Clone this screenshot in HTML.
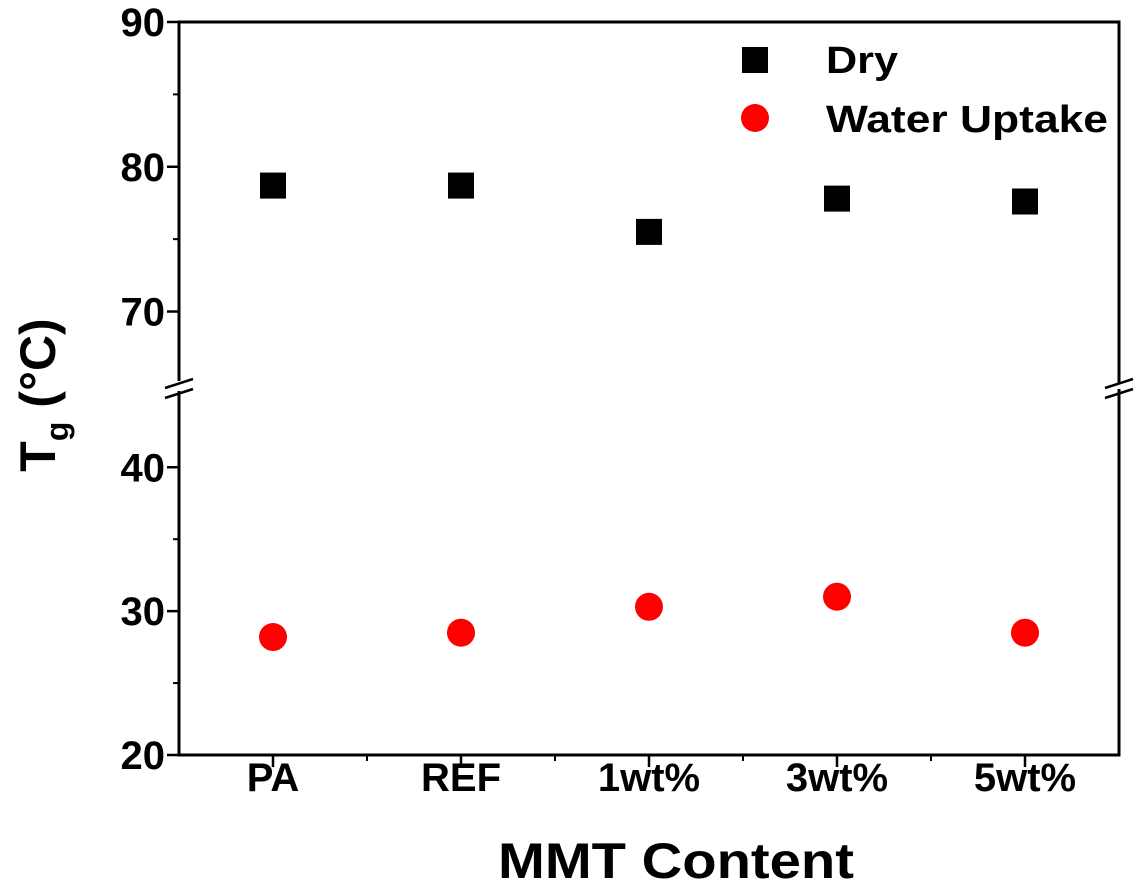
<!DOCTYPE html>
<html><head><meta charset="utf-8"><style>
body{margin:0;background:#fff}
svg text{font-family:"Liberation Sans","DejaVu Sans",sans-serif;font-weight:bold;fill:#000}
</style></head><body>
<svg width="1134" height="888" viewBox="0 0 1134 888">
<g id="g"></g>
</svg>
<script>
const categories=["PA","REF","1wt%","3wt%","5wt%"];
const dryValues=[78.7,78.7,75.5,77.8,77.6];
const waterValues=[28.2,28.5,30.3,31.0,28.5];
const upperTicks=[70,80,90];
const lowerTicks=[20,30,40];
const L=179,R=1119,T=22,B=755,brkTop=381,brkBot=391;
const upMin=65.2,upMax=90,loMin=20,loMax=45.3;
function yUp(v){return T+(upMax-v)/(upMax-upMin)*(brkTop-T);}
function yLo(v){return brkBot+(loMax-v)/(loMax-loMin)*(B-brkBot);}
function y(v){return v>=55?yUp(v):yLo(v);}
const step=(R-L)/5;
function x(i){return L+step*(i+0.5);}
const g=document.getElementById('g');
const NS='http://www.w3.org/2000/svg';
function mk(t,a,p){const e=document.createElementNS(NS,t);for(const k in a)e.setAttribute(k,a[k]);(p||g).appendChild(e);return e;}
let e;
e=mk('line',{x1:L,y1:T,x2:L,y2:brkTop,stroke:'#000','stroke-width':3});
e=mk('line',{x1:L,y1:brkBot,x2:L,y2:B,stroke:'#000','stroke-width':3});
e=mk('line',{x1:R,y1:T,x2:R,y2:brkTop+2,stroke:'#000','stroke-width':3});
e=mk('line',{x1:R,y1:brkBot-2,x2:R,y2:B,stroke:'#000','stroke-width':3});
e=mk('line',{x1:L-1.5,y1:T,x2:R+1.5,y2:T,stroke:'#000','stroke-width':3});
e=mk('line',{x1:L-1.5,y1:B,x2:R+1.5,y2:B,stroke:'#000','stroke-width':3});
[L,R].forEach(bx=>{[brkTop+3,brkBot+3].forEach(by=>{
 e=mk('line',{x1:bx-14,y1:by+4,x2:bx+14,y2:by-5,stroke:'#000','stroke-width':2.5});
 
});});
function yt(vals,fn){
 vals.forEach(v=>{const yy=fn(v);
  e=mk('line',{x1:L,y1:yy,x2:L-12,y2:yy,stroke:'#000','stroke-width':2.5});
  e=mk('text',{x:L-14,y:yy+14,'text-anchor':'end','font-size':40});e.textContent=v;
 });
}
yt(upperTicks,yUp);yt(lowerTicks,yLo);
[75,85].forEach(v=>{e=mk('line',{x1:L,y1:yUp(v),x2:L-6,y2:yUp(v),stroke:'#000','stroke-width':2});});
[25,35].forEach(v=>{e=mk('line',{x1:L,y1:yLo(v),x2:L-6,y2:yLo(v),stroke:'#000','stroke-width':2});});
categories.forEach((c,i)=>{const xx=x(i);
 e=mk('line',{x1:xx,y1:B,x2:xx,y2:B+12,stroke:'#000','stroke-width':2.5});
 e=mk('text',{x:xx,y:B+36,'text-anchor':'middle','font-size':40});e.textContent=c;
});
for(let i=1;i<5;i++){const xx=L+step*i;e=mk('line',{x1:xx,y1:B,x2:xx,y2:B+6,stroke:'#000','stroke-width':2});}
dryValues.forEach((v,i)=>{e=mk('rect',{x:x(i)-13,y:y(v)-13,width:26,height:26,fill:'#000'});});
waterValues.forEach((v,i)=>{e=mk('circle',{cx:x(i),cy:y(v),r:14,fill:'#f00'});});
e=mk('rect',{x:742,y:47,width:26,height:26,fill:'#000'});
e=mk('text',{x:826,y:73,'font-size':38,'font-weight':'normal',textLength:72,lengthAdjust:'spacingAndGlyphs'});e.textContent='Dry';
e=mk('circle',{cx:755,cy:118,r:14,fill:'#f00'});
e=mk('text',{x:826,y:132,'font-size':38,'font-weight':'normal',textLength:282,lengthAdjust:'spacingAndGlyphs'});e.textContent='Water Uptake';
e=mk('text',{x:676,y:878,'text-anchor':'middle','font-size':50,textLength:356,lengthAdjust:'spacingAndGlyphs'});e.textContent='MMT Content';
e=mk('text',{x:0,y:0,'text-anchor':'middle','font-size':50,transform:'translate(55,395) rotate(-90)'});
e.innerHTML='T<tspan font-size="32" dy="13">g</tspan><tspan dy="-13"> (°C)</tspan>';

</script>
</body></html>
